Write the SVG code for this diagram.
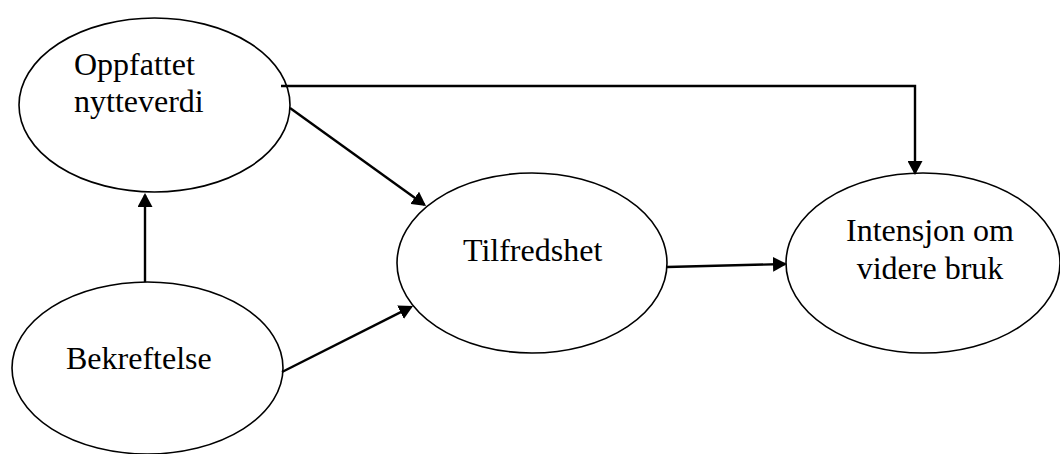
<svg xmlns="http://www.w3.org/2000/svg" width="1060" height="454" viewBox="0 0 1060 454">
  <style>
    .node { fill: #ffffff; stroke: #000000; stroke-width: 1.6; }
    .label { font-family: "Liberation Serif", "Times New Roman", serif; font-size: 32px; fill: #000000; }
    .edge { fill: none; stroke: #000000; stroke-width: 2.4; }
  </style>
  <defs>
    <marker id="arrow" markerUnits="userSpaceOnUse" markerWidth="14" markerHeight="15" refX="12" refY="7.5" orient="auto">
      <path d="M0,0 L14,7.5 L0,15 Z" fill="#000000"/>
    </marker>
  </defs>

  <rect width="1060" height="454" fill="#ffffff"/>

  <g id="node-oppfattet">
    <ellipse class="node" cx="154.5" cy="105" rx="135.5" ry="87"/>
    <text class="label" x="74" y="75">Oppfattet</text>
    <text class="label" x="74" y="112">nytteverdi</text>
  </g>

  <g id="node-bekreftelse">
    <ellipse class="node" cx="147.5" cy="368" rx="135.5" ry="86"/>
    <text class="label" x="66" y="369">Bekreftelse</text>
  </g>

  <g id="node-tilfredshet">
    <ellipse class="node" cx="532" cy="263" rx="135" ry="90"/>
    <text class="label" x="463" y="261">Tilfredshet</text>
  </g>

  <g id="node-intensjon">
    <ellipse class="node" cx="923" cy="263" rx="137" ry="90"/>
    <text class="label" x="930" y="241" text-anchor="middle">Intensjon om</text>
    <text class="label" x="930" y="279" text-anchor="middle">videre bruk</text>
  </g>

  <g id="connectors">
    <polyline class="edge" points="281,86 915,86 915,173" marker-end="url(#arrow)"/>
    <line class="edge" x1="290" y1="108" x2="424.4" y2="204.8" marker-end="url(#arrow)"/>
    <line class="edge" x1="145" y1="282" x2="145" y2="195" marker-end="url(#arrow)"/>
    <line class="edge" x1="282" y1="372" x2="411.2" y2="306.9" marker-end="url(#arrow)"/>
    <line class="edge" x1="667" y1="267" x2="785" y2="264" marker-end="url(#arrow)"/>
  </g>
</svg>
